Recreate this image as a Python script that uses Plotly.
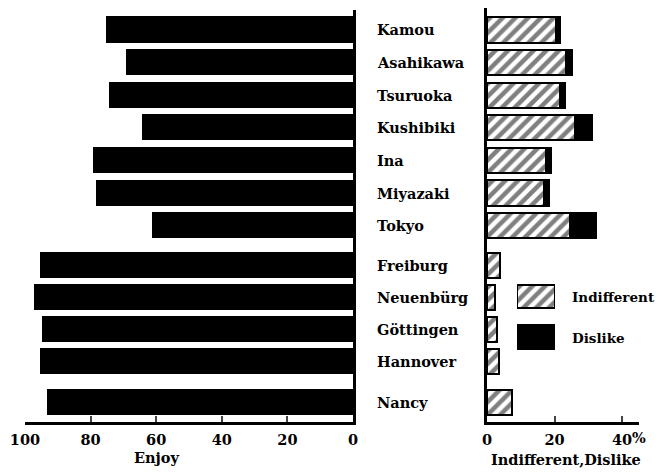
import plotly.graph_objects as go

# ---------------- data ----------------
places = ["Kamou", "Asahikawa", "Tsuruoka", "Kushibiki", "Ina", "Miyazaki", "Tokyo",
          "Freiburg", "Neuenbürg", "Göttingen", "Hannover", "Nancy"]
enjoy = [75, 69, 74, 64, 79, 78, 61, 95, 97, 94.5, 95, 93]
indifferent = [20.5, 23.5, 21.5, 26, 17.5, 17, 24.5, 3.8, 2.5, 3, 3.5, 7.5]
dislike = [1.2, 1.8, 1.5, 5, 1.5, 1.5, 7.7, 0, 0, 0, 0, 0]
enjoy_ticks = [100, 80, 60, 40, 20, 0]
pct_ticks = [0, 20, 40]
legend_names = ["Indifferent", "Dislike"]

# ---------------- layout helpers ----------------
OFF = 8                      # page body margin
W, H = 665 - OFF, 474 - OFF  # figure size so that it fills the window
row_pos = [0, 1, 2, 3, 4, 5, 6, 7.23, 8.21, 9.19, 10.17, 11.43]  # vertical slots (with group gaps)
FONT = "DejaVu Serif"


def px(x):
    return min(1.0, max(0.0, (x - OFF) / W))


def py(y):
    return min(1.0, max(0.0, 1 - (y - OFF) / H))


bar_w = 0.77
y_range = [12.02, -0.613]
hatch = dict(shape="/", fgcolor="black", bgcolor="white", size=9, solidity=0.5)

fig = go.Figure()

# left panel: Enjoy
fig.add_trace(go.Bar(
    x=enjoy, y=row_pos, orientation="h", width=bar_w,
    marker=dict(color="black", line=dict(color="black", width=1)),
    xaxis="x", yaxis="y", showlegend=False, name="Enjoy"))

# right panel: Indifferent (hatched) + Dislike (black), stacked
fig.add_trace(go.Bar(
    x=indifferent, y=row_pos, orientation="h", width=bar_w,
    marker=dict(color="white", line=dict(color="black", width=2.5), pattern=hatch),
    xaxis="x2", yaxis="y2", showlegend=False, name="Indifferent"))
fig.add_trace(go.Bar(
    x=dislike, y=row_pos, orientation="h", width=bar_w,
    marker=dict(color="black", line=dict(color="black", width=2)),
    xaxis="x2", yaxis="y2", showlegend=False, name="Dislike"))

# legend swatches on a helper axis
fig.add_trace(go.Bar(
    x=[1], y=[0], orientation="h", width=0.55,
    marker=dict(color="white", line=dict(color="black", width=2.5), pattern=hatch),
    xaxis="x3", yaxis="y3", showlegend=False, hoverinfo="skip"))
fig.add_trace(go.Bar(
    x=[1], y=[1], orientation="h", width=0.6,
    marker=dict(color="black", line=dict(color="black", width=1)),
    xaxis="x3", yaxis="y3", showlegend=False, hoverinfo="skip"))

tickfont = dict(family=FONT, size=14.5, color="black", weight="bold")

fig.update_layout(
    width=W, height=H,
    margin=dict(l=0, r=0, t=0, b=0, autoexpand=False),
    paper_bgcolor="white", plot_bgcolor="white",
    barmode="stack", bargap=0,
    font=dict(family=FONT, color="black"),
    xaxis=dict(domain=[px(25), px(353)], range=[100, 0], anchor="y", automargin=False,
               tickvals=enjoy_ticks, ticks="inside", ticklen=6, tickwidth=2,
               showline=True, linecolor="black", linewidth=2.5, showgrid=False,
               zeroline=False, tickfont=tickfont, ticklabelstandoff=3),
    yaxis=dict(domain=[py(422), py(10)], range=y_range, anchor="x", side="right",
               automargin=False,
               showline=True, linecolor="black", linewidth=2.5, showgrid=False,
               zeroline=False, showticklabels=False, ticks=""),
    xaxis2=dict(domain=[px(487), px(639)], range=[0, 45], anchor="y2", automargin=False,
                tickvals=pct_ticks, ticktext=[str(v) for v in pct_ticks],
                ticks="inside", ticklen=6, tickwidth=2,
                showline=True, linecolor="black", linewidth=2.5, showgrid=False,
                zeroline=False, tickfont=tickfont, ticklabelstandoff=3),
    yaxis2=dict(domain=[py(422), py(8)], range=[y_range[0], y_range[1] - 0.06], anchor="x2",
                automargin=False,
                showline=True, linecolor="black", linewidth=2.5, showgrid=False,
                zeroline=False, showticklabels=False, ticks=""),
    xaxis3=dict(domain=[px(517), px(555)], range=[0, 1], visible=False, anchor="y3"),
    yaxis3=dict(domain=[py(358), py(276)], range=[1.5, -0.5], visible=False, anchor="x3"),
)

annots = []
lab_font = dict(family=FONT, size=14.5, color="black", weight="bold")
leg_font = dict(family=FONT, size=13.5, color="black", weight="bold")
for name, pos in zip(places, row_pos):
    annots.append(dict(text=name, x=px(375), xref="paper", y=pos, yref="y",
                       xanchor="left", yanchor="middle", showarrow=False, font=lab_font))
for name, yy in zip(legend_names, [0, 1]):
    annots.append(dict(text=name, x=px(570), xref="paper", y=yy, yref="y3",
                       xanchor="left", yanchor="middle", showarrow=False, font=leg_font))
annots.append(dict(text="%", x=40, xref="x2", y=py(437), yref="paper", xanchor="left",
                   yanchor="middle", xshift=8, showarrow=False, font=tickfont))
annots.append(dict(text="Enjoy", x=px(157), xref="paper", y=py(457), yref="paper",
                   xanchor="center", yanchor="middle", showarrow=False, font=lab_font))
annots.append(dict(text="Indifferent,Dislike", x=px(566), xref="paper", y=py(459), yref="paper",
                   xanchor="center", yanchor="middle", showarrow=False, font=lab_font))
fig.update_layout(annotations=annots)

fig.write_html("out.html")
